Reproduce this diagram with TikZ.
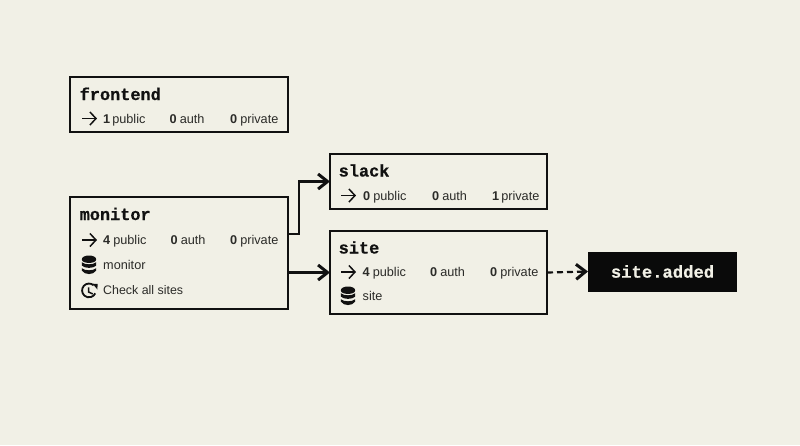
\documentclass[tikz,border=0pt]{standalone}
\usepackage{fontspec}
\setmainfont{Liberation Sans}
\newfontfamily\titlefont[BoldFont={Liberation Mono Bold},BoldFeatures={FakeBold=0.6}]{Liberation Mono}
\usetikzlibrary{arrows.meta,calc}
\definecolor{paper}{HTML}{F1F0E6}
\definecolor{ink}{HTML}{111111}
\definecolor{soft}{HTML}{2B2B28}
\definecolor{eventbg}{HTML}{0A0A0A}
\tikzset{
  x=1pt,y=-1pt,
  svc/.style={draw=ink,line width=2.2pt,fill=paper,inner sep=0pt,outer sep=0pt,anchor=north west},
  ttl/.style={anchor=base west,inner sep=0pt,text=ink,font=\titlefont\fontsize{16.9}{18}\selectfont\bfseries},
  lbl/.style={anchor=base west,inner sep=0pt,text=soft,font=\fontsize{12.7}{15}\selectfont},
  conn/.style={draw=ink,line width=2.2pt,-{Straight Barb[length=9.5pt,width=15pt,line width=3pt]}},
  rowarrow/.style={draw=ink,line width=1.4pt,-{Straight Barb[length=6pt,width=13pt,line width=1.5pt]}},
}
\newcommand{\numlbl}[2]{{\bfseries #1}\hspace{#2}}
\newcommand{\dbicon}[2]{%
  \begin{scope}[shift={(#1,#2)}]
    \fill[ink] (-7.2,-5.6) .. controls (-7.2,-10.8) and (7.2,-10.8) .. (7.2,-5.6) .. controls (7.2,-0.9) and (-7.2,-0.9) .. (-7.2,-5.6) -- cycle;
    \fill[ink] (-7.2,-2.8) .. controls (-4,0) and (4,0) .. (7.2,-2.8) -- (7.2,0.6) .. controls (4,3.6) and (-4,3.6) .. (-7.2,0.6) -- cycle;
    \fill[ink] (-7.2,3.2) .. controls (-4,6) and (4,6) .. (7.2,3.2) -- (7.2,5.6) .. controls (4,10.2) and (-4,10.2) .. (-7.2,5.6) -- cycle;
  \end{scope}}
\newcommand{\clockicon}[2]{%
  \begin{scope}[shift={(#1,#2)}]
    \draw[ink,line width=1.8pt] (4.6,-5.2) arc[start angle=-48,end angle=-335,radius=6.9];
    \draw[ink,line width=1.5pt] (-0.3,-3.2) -- (-0.3,1.6) -- (3.8,3.4);
    \fill[ink] (3.6,-6.8) -- (8.6,-6.6) -- (8.4,-1) -- cycle;
  \end{scope}}
\begin{document}
\begin{tikzpicture}
\useasboundingbox (0,0) rectangle (800,445);
\fill[paper] (0,0) rectangle (800,445);
% boxes
\node[svc,minimum width=218pt,minimum height=55pt] (frontend) at (70,77) {};
\node[svc,minimum width=218pt,minimum height=112pt] (monitor) at (70,197) {};
\node[svc,minimum width=217pt,minimum height=55pt] (slack) at (330,154) {};
\node[svc,minimum width=217pt,minimum height=83pt] (site) at (330,231) {};
\node[fill=eventbg,draw=none,inner sep=0pt,outer sep=0pt,anchor=north west,minimum width=149pt,minimum height=40pt,text=paper,font=\titlefont\fontsize{17.2}{18}\selectfont\bfseries] (event) at (588,251.5) {site.added};
% frontend
\node[ttl] (t1) at (79.5,100) {frontend};
\coordinate (a1s) at (82,118.5); \coordinate (a1e) at (97,118.5);
\draw[rowarrow] (a1s) -- (a1e);
\node[lbl] (f1) at (103,123) {\numlbl{1}{2pt}public};
\node[lbl] (f2) at (169.5,123) {\numlbl{0}{3pt}auth};
\node[lbl] (f3) at (230,123) {\numlbl{0}{3pt}private};
% monitor
\node[ttl] (t2) at (79.5,220) {monitor};
\coordinate (a2s) at (82,240); \coordinate (a2e) at (97,240);
\draw[rowarrow] (a2s) -- (a2e);
\node[lbl] (m1) at (103,244.5) {\numlbl{4}{3pt}public};
\node[lbl] (m2) at (170.5,244.5) {\numlbl{0}{3pt}auth};
\node[lbl] (m3) at (230,244.5) {\numlbl{0}{3pt}private};
\dbicon{89}{265}
\node[lbl] (m4) at (103,269.5) {monitor};
\clockicon{89}{290.5}
\node[lbl,font=\fontsize{12.4}{15}\selectfont] (m5) at (103,294.5) {Check all sites};
% slack
\node[ttl] (t3) at (338.5,176.5) {slack};
\coordinate (a3s) at (341,195.5); \coordinate (a3e) at (356,195.5);
\draw[rowarrow] (a3s) -- (a3e);
\node[lbl] (s1) at (363,200) {\numlbl{0}{3pt}public};
\node[lbl] (s2) at (432,200) {\numlbl{0}{3pt}auth};
\node[lbl] (s3) at (492,200) {\numlbl{1}{2pt}private};
% site
\node[ttl] (t4) at (338.5,253.5) {site};
\coordinate (a4s) at (341,272); \coordinate (a4e) at (356,272);
\draw[rowarrow] (a4s) -- (a4e);
\node[lbl] (i1) at (362.5,276.5) {\numlbl{4}{3pt}public};
\node[lbl] (i2) at (430,276.5) {\numlbl{0}{3pt}auth};
\node[lbl] (i3) at (490,276.5) {\numlbl{0}{3pt}private};
\dbicon{348}{296}
\node[lbl] (i4) at (362.5,300.5) {site};
% connectors
\coordinate (o1) at (monitor.north east |- 0,234);
\coordinate (bend) at (299,234);
\draw[conn,line join=miter] (o1) -- (bend) |- (slack.west);
\draw[conn] (monitor.east |- site.west) -- (site.west);
\draw[conn,dash pattern=on 6pt off 4pt] (site.east) -- (event.west);
\end{tikzpicture}
\end{document}
